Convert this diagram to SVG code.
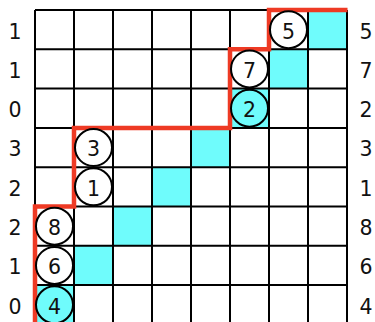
<svg xmlns="http://www.w3.org/2000/svg" width="375" height="322" viewBox="0 0 375 322">
<style>
.cy{fill:#6ffcfc;stroke:none}
.g{stroke:#000;stroke-width:2;fill:none}
.red{stroke:#ee3a24;stroke-width:4.5;fill:none;stroke-linejoin:miter}
.c{stroke:#000;stroke-width:2;fill:#fff}
.cc{stroke:#000;stroke-width:2;fill:#6ffcfc}
text{font-family:"DejaVu Sans","Liberation Sans",sans-serif;font-size:20.5px;fill:#111;text-anchor:middle}
</style>
<rect width="375" height="322" fill="#fff"/>
<g id="cells">
<rect class="cy" x="308" y="10" width="39" height="39.3"/>
<rect class="cy" x="269" y="49.3" width="39" height="39.3"/>
<rect class="cy" x="230" y="88.6" width="39" height="39.3"/>
<rect class="cy" x="191" y="127.9" width="39" height="39.3"/>
<rect class="cy" x="152" y="167.2" width="39" height="39.3"/>
<rect class="cy" x="113" y="206.5" width="39" height="39.3"/>
<rect class="cy" x="74" y="245.8" width="39" height="39.3"/>
<rect class="cy" x="35" y="285.1" width="39" height="39.3"/>
</g>
<g id="grid" class="g">
<path d="M35 10V330M74 10V330M113 10V330M152 10V330M191 10V330M230 10V330M269 10V330M308 10V330M347 10V330"/>
<path d="M35 10H347M35 49.3H347M35 88.6H347M35 127.9H347M35 167.2H347M35 206.5H347M35 245.8H347M35 285.1H347"/>
</g>
<g id="connectors">
<path class="red" d="M35 330V206.5H74V127.9H230V49.3H269V10H347.5"/>
</g>
<g id="n5"><circle class="c" cx="288.5" cy="29.65" r="18.5"/><text x="288.5" y="38.5">5</text></g>
<g id="n7"><circle class="c" cx="249.5" cy="68.95" r="18.5"/><text x="249.5" y="77.8">7</text></g>
<g id="n2"><circle class="cc" cx="249.5" cy="108.25" r="18.5"/><text x="249.5" y="117.1">2</text></g>
<g id="n3"><circle class="c" cx="93.5" cy="147.55" r="18.5"/><text x="93.5" y="156.4">3</text></g>
<g id="n1"><circle class="c" cx="93.5" cy="186.85" r="18.5"/><text x="93.5" y="195.7">1</text></g>
<g id="n8"><circle class="c" cx="54.5" cy="226.15" r="18.5"/><text x="54.5" y="235">8</text></g>
<g id="n6"><circle class="c" cx="54.5" cy="265.45" r="18.5"/><text x="54.5" y="274.3">6</text></g>
<g id="n4"><circle class="cc" cx="54.5" cy="304.75" r="18.5"/><text x="54.5" y="313.6">4</text></g>
<g id="left-labels">
<text x="15" y="38.5">1</text>
<text x="15" y="77.8">1</text>
<text x="15" y="117.1">0</text>
<text x="15" y="156.4">3</text>
<text x="15" y="195.7">2</text>
<text x="15" y="235">2</text>
<text x="15" y="274.3">1</text>
<text x="15" y="313.6">0</text>
</g>
<g id="right-labels">
<text x="366" y="38.5">5</text>
<text x="366" y="77.8">7</text>
<text x="366" y="117.1">2</text>
<text x="366" y="156.4">3</text>
<text x="366" y="195.7">1</text>
<text x="366" y="235">8</text>
<text x="366" y="274.3">6</text>
<text x="366" y="313.6">4</text>
</g>
</svg>
